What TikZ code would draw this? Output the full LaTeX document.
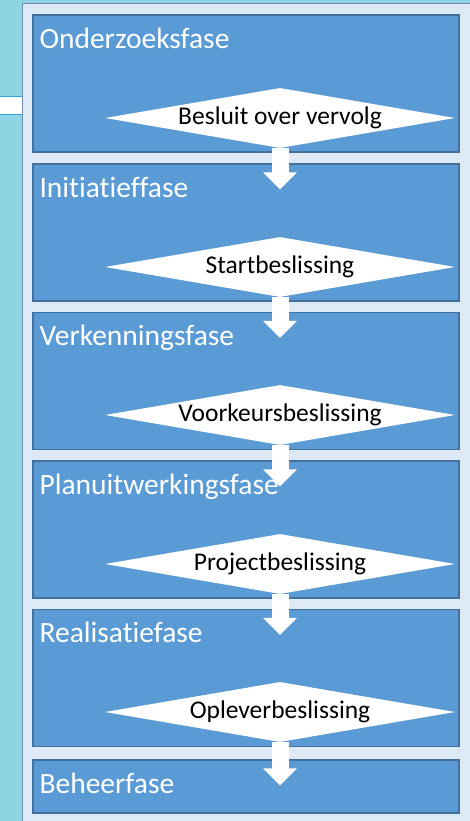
\documentclass[tikz,border=0pt]{standalone}
\usepackage{fontspec}
\setmainfont{Carlito}[Ligatures=NoCommon]
\usetikzlibrary{shapes.geometric,arrows.meta}

\definecolor{achtergrond}{HTML}{8ED4E2}
\definecolor{balkrand}{HTML}{2EA6DC}
\definecolor{paneel}{HTML}{DDE9F5}
\definecolor{paneelrand}{HTML}{6C8DB3}
\definecolor{fasevlak}{HTML}{5B9BD5}
\definecolor{faserand}{HTML}{41719C}

\begin{document}
\begin{tikzpicture}
	[x=1pt,y=-1pt,
	 fase/.style={draw=faserand,fill=fasevlak,line width=1.3pt,minimum width=426pt,minimum height=137pt,inner sep=0pt},
	 titel/.style={anchor=base west,text=white,inner sep=0pt,font=\fontsize{29.5}{30}\selectfont},
	 besluit/.style={diamond,aspect=5.83,fill=white,minimum width=350pt,minimum height=60pt,inner sep=0pt,font=\fontsize{25.5}{26}\selectfont},
	 pijl/.style={draw=white,line width=17pt,shorten >=-26pt,-{Triangle[length=17pt,width=33pt]}}]
	\fill[achtergrond] (0,0) rectangle (470,821);
	\useasboundingbox (0,0) rectangle (470,821);
	\draw[fill=white,draw=balkrand,line width=1pt] (-5,97) rectangle (22,115);
	\draw[fill=paneel,draw=paneelrand,line width=1pt] (22,4) rectangle (480,830);
	
	\node[fase] (p1) at (246,83.5)  {};
	\node[fase] (p2) at (246,232.5) {};
	\node[fase] (p3) at (246,381)   {};
	\node[fase] (p4) at (246,529.5) {};
	\node[fase] (p5) at (246,678)   {};
	\node[fase,minimum height=53pt] (p6) at (246,786.5) {};
	
	\node[titel] (t1) at ([shift={(7,34)}]p1.north west) {Onderzoeksfase};
	\node[titel] (t2) at ([shift={(7,34)}]p2.north west) {Initiatieffase};
	\node[titel] (t3) at ([shift={(7,34)}]p3.north west) {Verkenningsfase};
	\node[titel] (t4) at ([shift={(7,34)}]p4.north west) {Planuitwerkingsfase};
	\node[titel] (t5) at ([shift={(7,34)}]p5.north west) {Realisatiefase};
	\node[titel] (t6) at ([shift={(7,34)}]p6.north west) {Beheerfase};
	
	\node[besluit] (b1) at (280,118) {Besluit over vervolg};
	\node[besluit] (b2) at (280,267) {Startbeslissing};
	\node[besluit] (b3) at (280,415) {Voorkeursbeslissing};
	\node[besluit] (b4) at (280,564) {Projectbeslissing};
	\node[besluit] (b5) at (280,712) {Opleverbeslissing};
	
	\foreach \from/\to in {b1/p2,b2/p3,b3/p4,b4/p5,b5/p6}
		\draw[pijl] (\from.south) -- (\from.south |- \to.north);
\end{tikzpicture}
\end{document}
